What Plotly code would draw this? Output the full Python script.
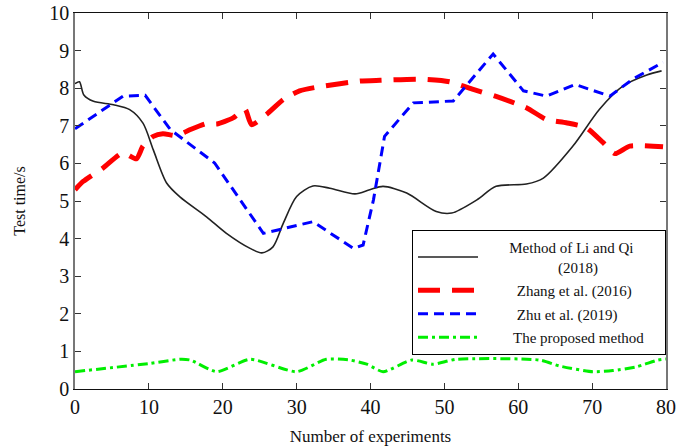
import plotly.graph_objects as go

# Method of Li and Qi (2018)
li_x = [0, 0.6, 1.2, 2.5, 5.2, 7.4, 9.2, 10.6, 12.4, 14.2, 17.8, 20.5, 23.7, 25.3, 26.8, 28.2, 30, 32.2, 34.5,
        37.9, 39.9, 41.7, 44.9, 48.9, 51, 54.4, 57, 61.1, 63.4, 67.4, 71, 74.2, 77.4, 79.4]
li_y = [8.12, 8.17, 7.82, 7.65, 7.56, 7.43, 7.07, 6.36, 5.48, 5.11, 4.58, 4.14, 3.74, 3.62, 3.78, 4.41, 5.12, 5.4, 5.34,
        5.19, 5.3, 5.39, 5.21, 4.72, 4.68, 5.03, 5.39, 5.45, 5.61, 6.46, 7.44, 8.06, 8.35, 8.46]

# Zhang et al. (2016)
zhang_x = [0, 1.1, 3.8, 6.5, 8.3, 9.2, 10.6, 11.9, 13.8, 15.6, 17.8, 19.2, 21.4, 23, 23.9, 25.9, 28.2, 30.4, 33.1,
           38.6, 41.3, 46.7, 50.7, 53.9, 57, 61.1, 63.8, 66.5, 69.2, 71.5, 73.1, 75.1, 79.6]
zhang_y = [5.3, 5.52, 5.88, 6.28, 6.12, 6.46, 6.72, 6.79, 6.74, 6.9, 7.06, 7.05, 7.21, 7.44, 7.03, 7.3, 7.7, 7.93, 8.04,
           8.19, 8.21, 8.24, 8.17, 7.97, 7.78, 7.48, 7.17, 7.08, 6.95, 6.55, 6.26, 6.46, 6.44]

# Zhu et al. (2019)
zhu_x = [0, 6.5, 9.5, 12.9, 18.9, 25.5, 32.2, 37.7, 39, 40.4, 41.9, 45.8, 51.2, 56.6, 60.7, 63.8, 67.7, 72.4, 75.5, 79.6]
zhu_y = [6.92, 7.79, 7.81, 6.9, 6.01, 4.14, 4.45, 3.74, 3.83, 5.03, 6.72, 7.61, 7.66, 8.91, 7.93, 7.79, 8.1, 7.79, 8.24, 8.69]

# The proposed method
prop_x = [0, 10.1, 14.2, 15.6, 19.2, 23.7, 30, 34, 37.2, 39.5, 41.7, 45.6, 48.5, 51.6, 62.9, 65.6, 70.1, 72.8, 76, 78.9, 80]
prop_y = [0.46, 0.68, 0.79, 0.77, 0.46, 0.79, 0.46, 0.79, 0.77, 0.66, 0.46, 0.77, 0.66, 0.79, 0.77, 0.61, 0.46, 0.49, 0.59, 0.77, 0.8]

x_ticks = [0, 10, 20, 30, 40, 50, 60, 70, 80]
y_ticks = [0, 1, 2, 3, 4, 5, 6, 7, 8, 9, 10]

FONT = "Liberation Serif"
NB = "\u00a0"
PAD = NB * 7
TAIL = NB * 4

fig = go.Figure()
fig.add_trace(go.Scatter(x=li_x, y=li_y, mode="lines", legendgroup="a",
                         name=PAD + "Method of Li and Qi" + NB * 3 + TAIL + "<br>" + PAD + NB * 13 + "(2018)",
                         line=dict(color="#222222", width=1.6, shape="spline", smoothing=0.8)))
fig.add_trace(go.Scatter(x=zhang_x, y=zhang_y, mode="lines", legendgroup="b",
                         name=PAD + NB * 2 + "Zhang et al. (2016)" + TAIL,
                         line=dict(color="#ff0000", width=5, dash="22px,12px", shape="spline", smoothing=0.6)))
fig.add_trace(go.Scatter(x=zhu_x, y=zhu_y, mode="lines", legendgroup="c",
                         name=PAD + NB * 2 + "Zhu et al. (2019)" + TAIL,
                         line=dict(color="#0000ff", width=3, dash="10px,6px")))
fig.add_trace(go.Scatter(x=prop_x, y=prop_y, mode="lines", legendgroup="d",
                         name=PAD + NB + "The proposed method" + TAIL,
                         line=dict(color="#00ee00", width=3, dash="10px,4px,3px,4px", shape="spline", smoothing=0.6)))

fig.update_layout(
    width=679, height=446,
    margin=dict(l=75, r=13, t=13, b=57, autoexpand=False),
    paper_bgcolor="white", plot_bgcolor="white",
    font=dict(family=FONT, color="#111111"),
    showlegend=True,
    legend=dict(x=1, xanchor="right", y=0.423, yanchor="top",
                bgcolor="white", bordercolor="black", borderwidth=1,
                font=dict(family=FONT, size=15, color="#111111"),
                itemwidth=60, tracegroupgap=1, traceorder="grouped"),
)
fig.update_xaxes(range=[0, 80], tickvals=x_ticks, ticks="inside", ticklen=6, tickcolor="#333333",
                 showline=True, linecolor="#111111", linewidth=1.2, mirror="ticks",
                 showgrid=False, zeroline=False, automargin=False,
                 tickfont=dict(family=FONT, size=20, color="#111111"),
                 title=dict(text="Number of experiments", font=dict(family=FONT, size=17, color="#111111"), standoff=18))
fig.update_yaxes(range=[0, 10], tickvals=y_ticks, ticks="inside", ticklen=6, tickcolor="#333333",
                 showline=True, linecolor="#777777", linewidth=1.6, mirror="ticks",
                 showgrid=False, zeroline=False, automargin=False,
                 tickfont=dict(family=FONT, size=20, color="#111111"),
                 title=dict(text="Test time/s", font=dict(family=FONT, size=16, color="#111111"), standoff=20))

fig.write_html("out.html")
